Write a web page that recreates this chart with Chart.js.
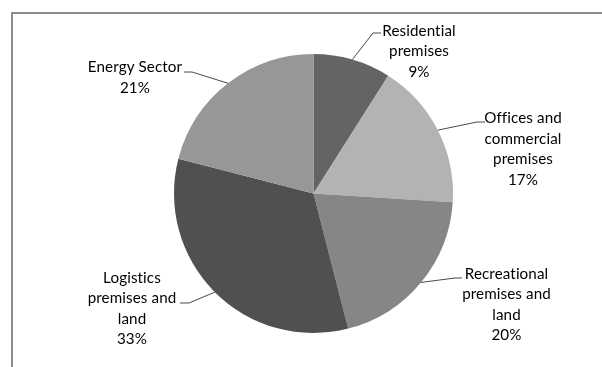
<!DOCTYPE html>
<html>
<head>
<meta charset="utf-8">
<script src="https://cdn.jsdelivr.net/npm/chart.js@4/dist/chart.umd.min.js"></script>
<style>
  html, body { margin: 0; padding: 0; background: #fff; overflow: hidden; }
  #wrap { position: relative; width: 602px; height: 367px; }
  #frame {
    position: absolute; left: 11px; top: 12px; width: 620px; height: 400px;
    border-left: 2px solid #8c8c8c; border-top: 2px solid #8c8c8c;
  }
  canvas { position: absolute; left: 0; top: 0; }
</style>
</head>
<body>
<div id="wrap">
  <div id="frame"></div>
  <canvas id="pie" width="602" height="367"></canvas>
</div>
<script>
// Share of sites by sector (percent)
const sectors = [
  ['Residential', 'premises'],
  ['Offices and', 'commercial', 'premises'],
  ['Recreational', 'premises and', 'land'],
  ['Logistics', 'premises and', 'land'],
  ['Energy Sector']
];
const shares = [9, 17, 20, 33, 21];
const sliceColors = ['#646464', '#b3b3b3', '#868686', '#505050', '#979797'];

// Label block centres and leader-line knees, relative to the pie centre
const labelAt = [
  { tx: 105.5, ty: -142, kx: 59.5, ky: -160.5, hx: 67.5 },
  { tx: 209.5, ty: -44.5, kx: 163.5, ky: -71.5, hx: 171.5 },
  { tx: 193, ty: 111, kx: 141.5, ky: 84.5, hx: 148.5 },
  { tx: -181.5, ty: 115, kx: -124.5, ky: 109.5, hx: -133.5 },
  { tx: -178.5, ty: -116, kx: -121.5, ky: -121.5, hx: -129.5 }
];

const lineGap = 20.5;

const calloutLabels = {
  id: 'calloutLabels',
  afterDatasetsDraw(chart) {
    const ctx = chart.ctx;
    const meta = chart.getDatasetMeta(0);
    const total = shares.reduce((a, b) => a + b, 0);
    ctx.save();
    ctx.font = '15.2px Lato, "Open Sans", sans-serif';
    ctx.letterSpacing = '0.1px'; // also keeps "ti" from turning into a ligature
    ctx.textAlign = 'center';
    ctx.textBaseline = 'middle';
    meta.data.forEach((arc, i) => {
      const p = arc.getProps(['x', 'y', 'outerRadius', 'startAngle', 'endAngle'], true);
      const mid = (p.startAngle + p.endAngle) / 2;
      const ex = p.x + Math.cos(mid) * p.outerRadius;
      const ey = p.y + Math.sin(mid) * p.outerRadius;
      const l = labelAt[i];

      // leader line from slice edge to label
      ctx.strokeStyle = '#4a4a4a';
      ctx.lineWidth = 1;
      ctx.beginPath();
      ctx.moveTo(ex, ey);
      ctx.lineTo(p.x + l.kx, p.y + l.ky);
      ctx.lineTo(p.x + l.hx, p.y + l.ky);
      ctx.stroke();

      const lines = sectors[i].concat([Math.round(shares[i] / total * 100) + '%']);
      const top = p.y + l.ty - (lines.length - 1) * lineGap / 2;
      ctx.fillStyle = '#000';
      lines.forEach((t, j) => ctx.fillText(t, p.x + l.tx, top + j * lineGap));
    });
    ctx.restore();
  }
};

new Chart(document.getElementById('pie'), {
  type: 'pie',
  data: {
    labels: sectors.map(s => s.join(' ')),
    datasets: [{
      data: shares,
      backgroundColor: sliceColors,
      borderWidth: 0
    }]
  },
  options: {
    responsive: false,
    animation: false,
    layout: { padding: { left: 174, right: 149, top: 54, bottom: 34 } },
    plugins: {
      legend: { display: false },
      tooltip: { enabled: false }
    }
  },
  plugins: [calloutLabels]
});
</script>
</body>
</html>
